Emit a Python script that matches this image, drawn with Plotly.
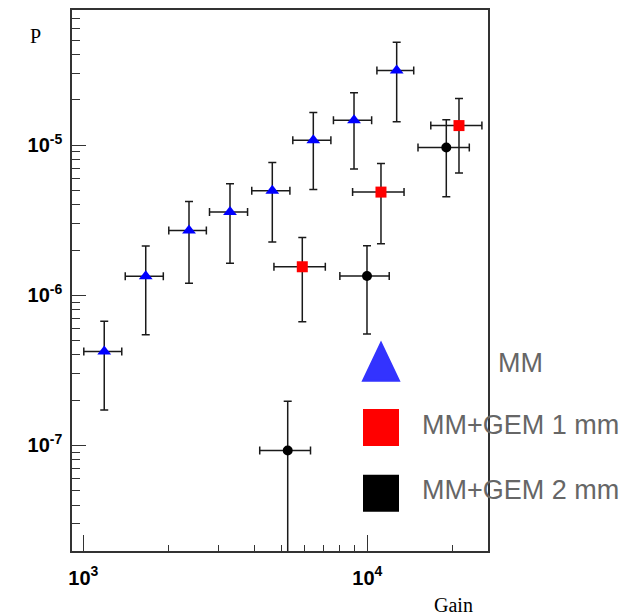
import plotly.graph_objects as go

# ---- data -------------------------------------------------------------
# MM
mm_gain = [1185, 1659, 2356, 3285, 4629, 6455, 8979, 12690]
mm_gain_err = [181, 254, 356, 503, 710, 989, 1380, 1880]
mm_p = [4.22e-7, 1.336e-6, 2.70e-6, 3.58e-6, 4.96e-6, 1.076e-5, 1.462e-5, 3.13e-5]
mm_p_err = [2.5e-7, 7.9e-7, 1.5e-6, 1.95e-6, 2.7e-6, 5.7e-6, 7.7e-6, 1.7e-5]

# MM+GEM 1 mm
g1_gain = [5903, 11173, 21030]
g1_gain_err = [1212, 2297, 4296]
g1_p = [1.547e-6, 4.86e-6, 1.347e-5]
g1_p_err = [8.8e-7, 2.66e-6, 6.97e-6]

# MM+GEM 2 mm
g2_gain = [5245, 9975, 18974]
g2_gain_err = [1065, 1970, 3890]
g2_p = [9.26e-8, 1.341e-6, 9.62e-6]
g2_p_err = [1.04e-7, 7.9e-7, 5.1e-6]

legend_names = ["MM", "MM+GEM 1 mm", "MM+GEM 2 mm"]
y_major = [1e-7, 1e-6, 1e-5]
y_major_text = ["10<sup>-7</sup>", "10<sup>-6</sup>", "10<sup>-5</sup>"]
x_major = [1e3, 1e4]
x_major_text = ["10<sup>3</sup>", "10<sup>4</sup>"]

# ---- layout geometry (pixels) ------------------------------------------
W, H = 625, 615
L, R, T, B = 72, 137, 8, 64
PW, PH = W - L - R, H - T - B


def px(x):
    return (x - L) / PW


def py(y):
    return (H - B - y) / PH


ERR_COLOR = "#1a1a1a"


def series(x, xe, y, ye, color, symbol, size):
    return go.Scatter(
        x=x, y=y, mode="markers", showlegend=False,
        marker=dict(color=color, symbol=symbol, size=size, line=dict(width=0)),
        error_x=dict(type="data", array=xe, color=ERR_COLOR, thickness=1.5, width=4),
        error_y=dict(type="data", array=ye, color=ERR_COLOR, thickness=1.5, width=4),
    )


fig = go.Figure()
fig.add_trace(series(mm_gain, mm_gain_err, mm_p, mm_p_err, "#0000ff", "triangle-up", 12))
fig.add_trace(series(g1_gain, g1_gain_err, g1_p, g1_p_err, "#ff0000", "square", 11))
fig.add_trace(series(g2_gain, g2_gain_err, g2_p, g2_p_err, "#000000", "circle", 10))

minor_y = [m * 10.0 ** e for e in (-8, -7, -6, -5) for m in range(2, 10)]
minor_x = [m * 10.0 ** e for e in (2, 3, 4) for m in range(2, 10)]

tick_font = dict(family="Liberation Sans", size=20, color="#000000", weight="bold")

fig.update_xaxes(
    type="log", range=[2.9602, 4.425],
    showgrid=False, zeroline=False,
    showline=True, linecolor="#333333", linewidth=1.5, mirror=True,
    ticks="inside", ticklen=16, tickwidth=1.2, tickcolor="#333333",
    tickmode="array", tickvals=x_major, ticktext=x_major_text,
    tickfont=tick_font, ticklabelstandoff=8,
    minor=dict(tickmode="array", tickvals=minor_x, ticks="inside",
               ticklen=6, tickwidth=1.2, tickcolor="#333333", showgrid=False),
)
fig.update_yaxes(
    type="log", range=[-7.703, -4.101],
    showgrid=False, zeroline=False,
    showline=True, linecolor="#333333", linewidth=1.5, mirror=True,
    ticks="inside", ticklen=14, tickwidth=1.2, tickcolor="#333333",
    tickmode="array", tickvals=y_major, ticktext=y_major_text,
    tickfont=tick_font, ticklabelstandoff=4,
    minor=dict(tickmode="array", tickvals=minor_y, ticks="inside",
               ticklen=8, tickwidth=1.2, tickcolor="#333333", showgrid=False),
)

# axis titles
annotations = [
    dict(text="P", x=px(35), y=py(34), xref="paper", yref="paper",
         showarrow=False, xanchor="center", yanchor="middle",
         font=dict(family="Liberation Serif", size=20, color="#000000")),
    dict(text="Gain", x=px(453), y=py(605), xref="paper", yref="paper",
         showarrow=False, xanchor="center", yanchor="middle",
         font=dict(family="Liberation Serif", size=20, color="#000000")),
]

# legend: keys drawn as shapes, labels as centred text
text_rows = [362, 424.5, 490]
key_rows = [361, 427, 493]
key_left, key_right = 363, 399
for name, yc in zip(legend_names, text_rows):
    annotations.append(dict(
        text=name, x=px(520), y=py(yc), xref="paper", yref="paper",
        showarrow=False, xanchor="center", yanchor="middle",
        font=dict(family="Liberation Sans", size=27, color="#666666")))

shapes = []
tri_path = "M {:.4f} {:.4f} L {:.4f} {:.4f} L {:.4f} {:.4f} Z".format(
    px(key_left), py(380), px(key_right), py(380), px((key_left + key_right) / 2), py(342))
shapes.append(dict(type="path", path=tri_path, xref="paper", yref="paper",
                   fillcolor="#3333ff", line=dict(color="#3333ff", width=2)))
for yc, col in zip(key_rows[1:], ["#ff0000", "#000000"]):
    shapes.append(dict(type="rect", xref="paper", yref="paper",
                       x0=px(key_left + 1), x1=px(key_right - 1),
                       y0=py(yc - 17.5), y1=py(yc + 17.5),
                       fillcolor=col, line=dict(color=col, width=2)))

fig.update_layout(
    width=W, height=H,
    margin=dict(l=L, r=R, t=T, b=B, pad=0),
    paper_bgcolor="#ffffff", plot_bgcolor="#ffffff",
    annotations=annotations, shapes=shapes,
    showlegend=False,
)

fig.write_html("out.html")
